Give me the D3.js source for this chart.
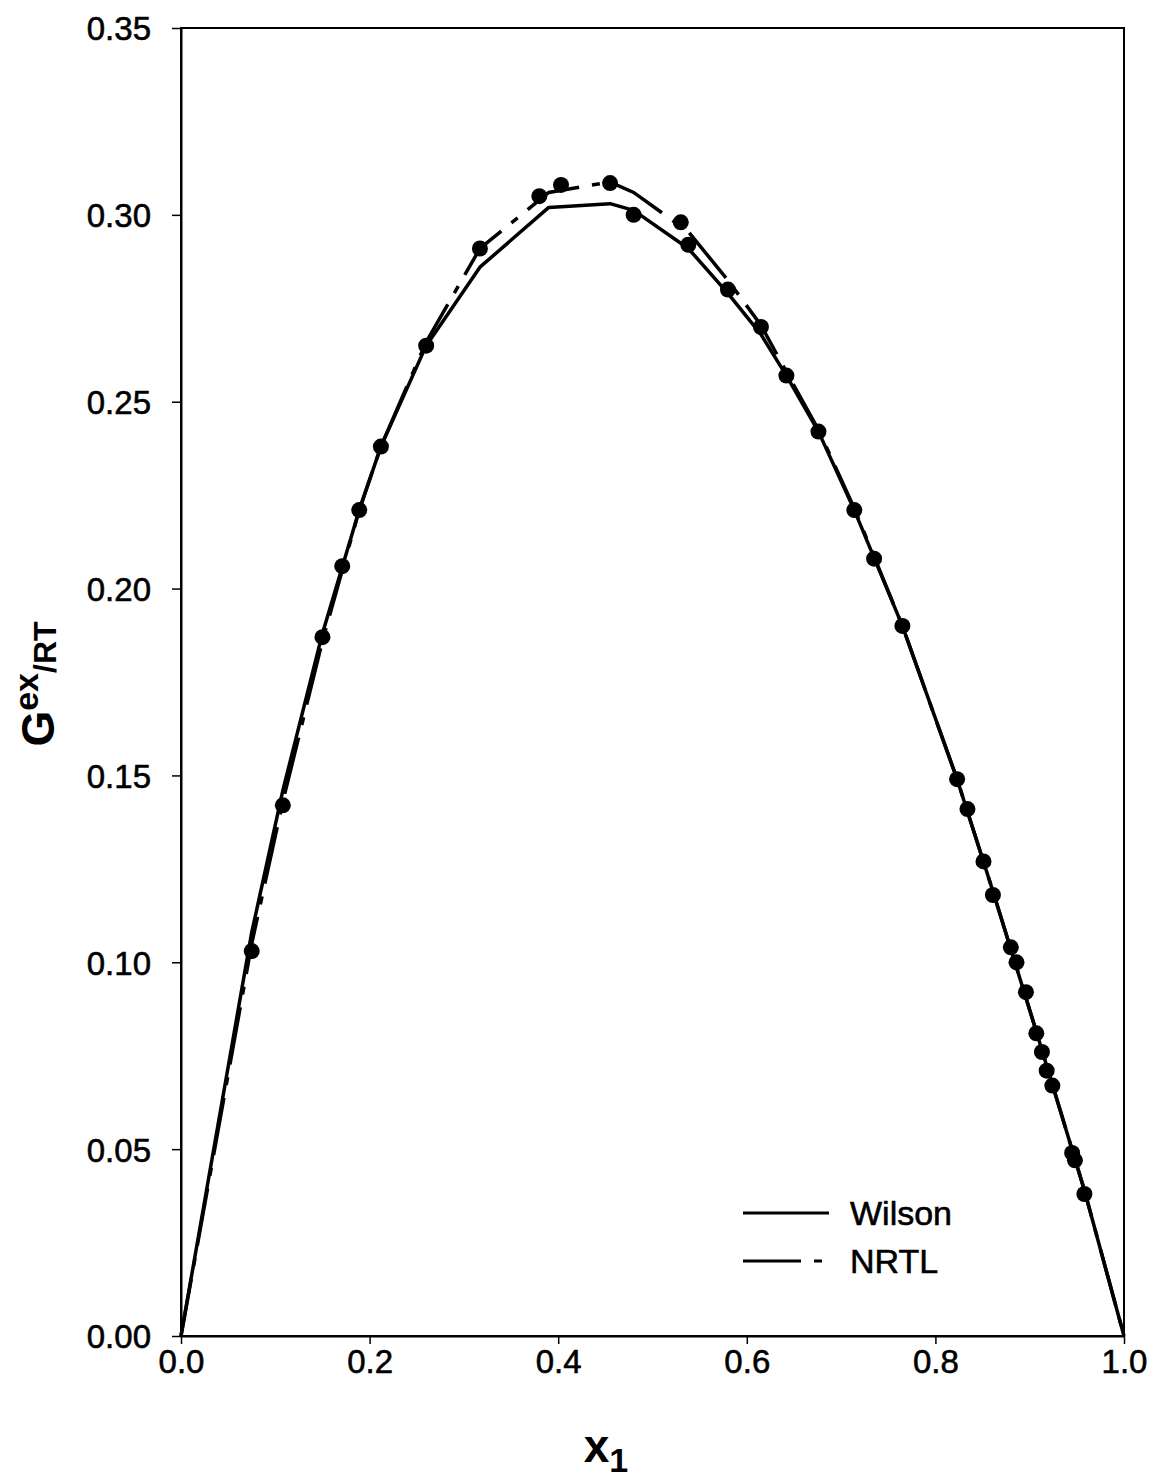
<!DOCTYPE html>
<html>
<head>
<meta charset="utf-8">
<script src="https://cdn.jsdelivr.net/npm/d3@7"></script>
<style>
  html, body { margin: 0; padding: 0; background: #fff; }
  svg { display: block; }
  text { font-family: Arial, "Liberation Sans", sans-serif; fill: #000; }
</style>
</head>
<body>
<svg id="chart" width="1154" height="1481"></svg>
<script>
// Experimental data points
const expX = [0.075, 0.108, 0.150, 0.171, 0.189, 0.212, 0.260, 0.317, 0.380, 0.403, 0.455, 0.480, 0.530, 0.538, 0.580, 0.615, 0.642, 0.676, 0.714, 0.735, 0.765, 0.823, 0.834, 0.851, 0.861, 0.880, 0.886, 0.896, 0.907, 0.913, 0.918, 0.924, 0.945, 0.948, 0.958];
const expY = [0.103, 0.142, 0.187, 0.206, 0.221, 0.238, 0.265, 0.291, 0.305, 0.308, 0.3085, 0.300, 0.298, 0.292, 0.280, 0.270, 0.257, 0.242, 0.221, 0.208, 0.190, 0.149, 0.141, 0.127, 0.118, 0.104, 0.100, 0.092, 0.081, 0.076, 0.071, 0.067, 0.049, 0.047, 0.038];

// Model curves
const modelX = [0, 0.075, 0.108, 0.150, 0.189, 0.212, 0.260, 0.317, 0.390, 0.455, 0.480, 0.538, 0.580, 0.615, 0.642, 0.676, 0.714, 0.765, 0.823, 0.861, 0.907, 0.958, 1.0];
const wilsonY = [0, 0.108, 0.146, 0.188, 0.221, 0.238, 0.265, 0.286, 0.302, 0.303, 0.3012, 0.291, 0.279, 0.268, 0.257, 0.242, 0.221, 0.190, 0.149, 0.119, 0.0815, 0.039, 0];
const nrtlY   = [0, 0.105, 0.143, 0.186, 0.221, 0.238, 0.266, 0.291, 0.306, 0.3088, 0.306, 0.2955, 0.2825, 0.2705, 0.258, 0.2425, 0.2215, 0.190, 0.149, 0.119, 0.0815, 0.039, 0];

const xTicks = [0, 0.2, 0.4, 0.6, 0.8, 1.0];
const yTicks = [0, 0.05, 0.10, 0.15, 0.20, 0.25, 0.30, 0.35];
const legendLabels = ["Wilson", "NRTL"];

const svg = d3.select("#chart");
const L = 181, R = 1124, T = 28, B = 1336;
const x = d3.scaleLinear().domain([0, 1]).range([L, R]);
const y = d3.scaleLinear().domain([0, 0.35]).range([B, T]);

// frame
svg.append("rect").attr("x", L).attr("y", T).attr("width", R - L).attr("height", B - T)
  .attr("fill", "none").attr("stroke", "#000").attr("stroke-width", 2);

// axes
const gx = svg.append("g").attr("transform", `translate(0,${B})`)
  .call(d3.axisBottom(x).tickValues(xTicks).tickFormat(d3.format(".1f")).tickSize(8).tickSizeOuter(0).tickPadding(6));
const gy = svg.append("g").attr("transform", `translate(${L},0)`)
  .call(d3.axisLeft(y).tickValues(yTicks).tickFormat(d3.format(".2f")).tickSize(9).tickSizeOuter(0).tickPadding(21));
[gx, gy].forEach(g => {
  g.select(".domain").attr("stroke", "#000").attr("stroke-width", 2);
  g.selectAll(".tick line").attr("stroke", "#000").attr("stroke-width", 1.5);
  g.selectAll(".tick text").attr("font-size", 33).attr("font-family", "Arial, 'Liberation Sans', sans-serif")
    .attr("fill", "#000").attr("stroke", "#000").attr("stroke-width", 0.6);
});
gy.selectAll(".tick text").attr("dy", "0.36em");

const line = d3.line().x(d => x(d[0])).y(d => y(d[1]));
const wil = modelX.map((v, i) => [v, wilsonY[i]]);
const nr = modelX.map((v, i) => [v, nrtlY[i]]);
const dash = "58,13,8,13";

svg.append("path").attr("d", line(wil)).attr("fill", "none").attr("stroke", "#000").attr("stroke-width", 3.5).attr("stroke-linejoin", "round");
svg.append("path").attr("d", line(nr)).attr("fill", "none").attr("stroke", "#000").attr("stroke-width", 3.5).attr("stroke-dasharray", dash);

svg.append("g").selectAll("circle").data(expX.map((v, i) => [v, expY[i]])).join("circle")
  .attr("cx", d => x(d[0])).attr("cy", d => y(d[1])).attr("r", 8).attr("fill", "#000");

// legend
const lg = svg.append("g");
legendLabels.forEach((lab, i) => {
  const yy = 1213 + i * 48;
  lg.append("line").attr("x1", 743).attr("x2", 829).attr("y1", yy).attr("y2", yy)
    .attr("stroke", "#000").attr("stroke-width", 3).attr("stroke-dasharray", i === 1 ? "58,13,8,20" : null);
  lg.append("text").attr("x", 850).attr("y", yy).attr("dy", "0.36em").attr("font-size", 34)
    .attr("stroke", "#000").attr("stroke-width", 0.6).text(lab);
});

// y label
const yl = svg.append("text").attr("transform", "translate(54,684) rotate(-90)")
  .attr("text-anchor", "middle").attr("font-weight", "bold");
yl.append("tspan").attr("font-size", 46).text("G");
yl.append("tspan").attr("font-size", 34).attr("dy", -16).text("ex");
yl.append("tspan").attr("font-size", 32).attr("dy", 18).text("/RT");

// x label
const xl = svg.append("text").attr("x", 606).attr("y", 1462).attr("text-anchor", "middle").attr("font-weight", "bold");
xl.append("tspan").attr("font-size", 46).text("x");
xl.append("tspan").attr("font-size", 34).attr("dy", 10).text("1");
</script>
</body>
</html>
